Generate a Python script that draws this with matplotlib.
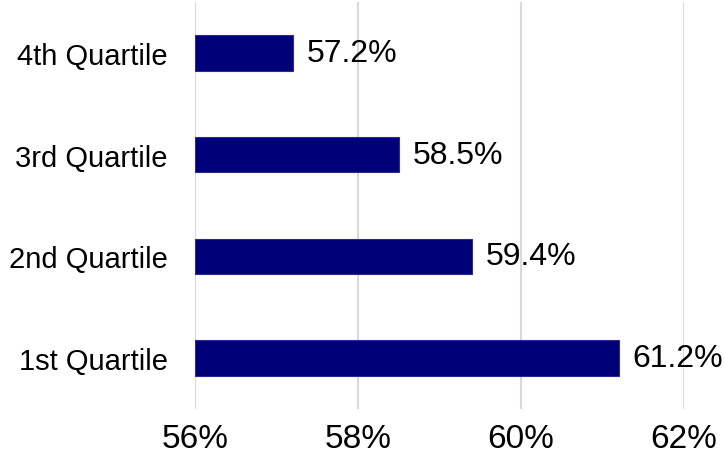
import matplotlib
matplotlib.use("Agg")
import matplotlib.pyplot as plt

categories = ["4th Quartile", "3rd Quartile", "2nd Quartile", "1st Quartile"]
values = [57.2, 58.5, 59.4, 61.2]
value_labels = ["57.2%", "58.5%", "59.4%", "61.2%"]
xticks = [56, 58, 60, 62]
xtick_labels = ["56%", "58%", "60%", "62%"]

plt.rcParams['font.family'] = ['Liberation Sans', 'DejaVu Sans']

fig = plt.figure(figsize=(7.25, 4.64), dpi=100)
ax = fig.add_axes([195/725, 1 - 410/464, (684 - 195)/725, (410 - 3)/464])

y = list(range(len(categories)))
base = 56
ax.barh(y, [v - base for v in values], left=base, height=0.35,
        color="#000078", edgecolor="#2a2a90", linewidth=0.8, zorder=3)

for yi, v, lab in zip(y, values, value_labels):
    ax.text(v + 0.17, yi, lab, va="center", ha="left", fontsize=23, color="black")

ax.set_xlim(56, 62)
ax.set_ylim(3.5, -0.5)
ax.set_yticks(y)
ax.set_yticklabels(categories, fontsize=21)
ax.set_xticks(xticks)
ax.set_xticklabels(xtick_labels, fontsize=24)
ax.tick_params(axis="both", length=0)
ax.tick_params(axis="x", pad=10)
ax.tick_params(axis="y", pad=19.5)
ax.grid(axis="x", color="#d9d9d9", linewidth=1.5, zorder=0)
for s in ax.spines.values():
    s.set_visible(False)

fig.savefig("out.png", dpi=100)
